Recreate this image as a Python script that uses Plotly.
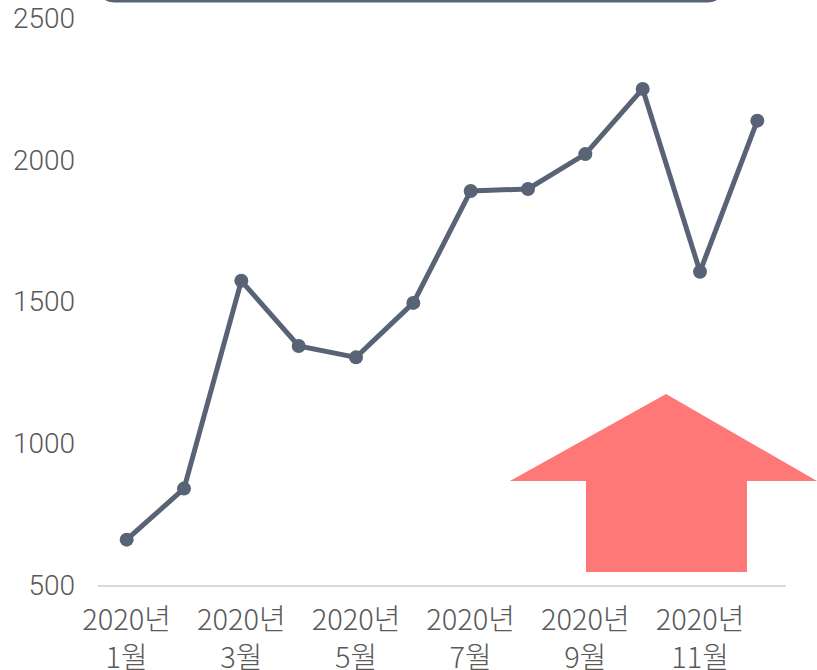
import plotly.graph_objects as go

months = ["2020년<br>1월", "2020년<br>2월", "2020년<br>3월", "2020년<br>4월", "2020년<br>5월", "2020년<br>6월",
          "2020년<br>7월", "2020년<br>8월", "2020년<br>9월", "2020년<br>10월", "2020년<br>11월", "2020년<br>12월"]
values = [660, 840, 1573, 1343, 1303, 1495, 1890, 1897, 2020, 2250, 1605, 2138]
tick_labels = [m if i % 2 == 0 else "" for i, m in enumerate(months)]
y_ticks = [500, 1000, 1500, 2000, 2500]

W, H = 817, 670
L, R, T, B = 98, 31, 18, 85
pw, ph = W - L - R, H - T - B

def px(x):
    return (x - L) / pw

def py(y):
    return (H - B - y) / ph

fig = go.Figure()
fig.add_trace(go.Scatter(
    x=months, y=values, mode="lines+markers",
    line=dict(color="#586376", width=5),
    marker=dict(color="#586376", size=14),
    hoverinfo="x+y",
))

arrow = [(666, 394), (817, 481), (747, 481), (747, 572), (586, 572), (586, 481), (510, 481)]
path = "M " + " L ".join(f"{px(a):.4f},{py(b):.4f}" for a, b in arrow) + " Z"
fig.add_shape(type="path", xref="paper", yref="paper", path=path,
              fillcolor="#FF7878", line=dict(width=0), layer="above")

# rounded box bottom edge (cut off at top of the picture)
x0, x1, yb, yt = px(102), px(720), py(1), py(-60)
ry = 12 / ph
rx = 12 / pw
box = (f"M {x0:.4f},{yt:.4f} L {x0:.4f},{yb+ry:.4f} Q {x0:.4f},{yb:.4f} {x0+rx:.4f},{yb:.4f} "
       f"L {x1-rx:.4f},{yb:.4f} Q {x1:.4f},{yb:.4f} {x1:.4f},{yb+ry:.4f} L {x1:.4f},{yt:.4f}")
fig.add_shape(type="path", xref="paper", yref="paper", path=box,
              line=dict(color="#586376", width=3), fillcolor="rgba(0,0,0,0)")

fig.update_layout(
    width=W, height=H,
    margin=dict(l=L, r=R, t=T, b=B, autoexpand=False),
    paper_bgcolor="white", plot_bgcolor="white",
    showlegend=False,
    font=dict(family="Noto Sans CJK KR", color="#595959"),
)
fig.update_xaxes(
    type="category", range=[-0.5, 11.5], automargin=False,
    tickmode="array", tickvals=months, ticktext=tick_labels,
    showgrid=False, showline=True, linecolor="#d9d9d9", linewidth=2,
    ticks="", tickfont=dict(size=29, family="Noto Sans CJK KR", color="#595959", weight=300),
    ticklabelstandoff=8, ticklabeloverflow="allow",
    zeroline=False,
)
fig.update_yaxes(
    range=[500, 2500], tickvals=y_ticks, automargin=False,
    showgrid=False, showline=False, zeroline=False, ticks="",
    tickfont=dict(size=28, family="Roboto", color="#595959", weight=300),
    ticklabelstandoff=22, ticklabeloverflow="allow",
)

fig.write_html("out.html", config={"displayModeBar": False},
               post_script="document.body.style.margin='0';document.body.style.overflow='hidden';")
